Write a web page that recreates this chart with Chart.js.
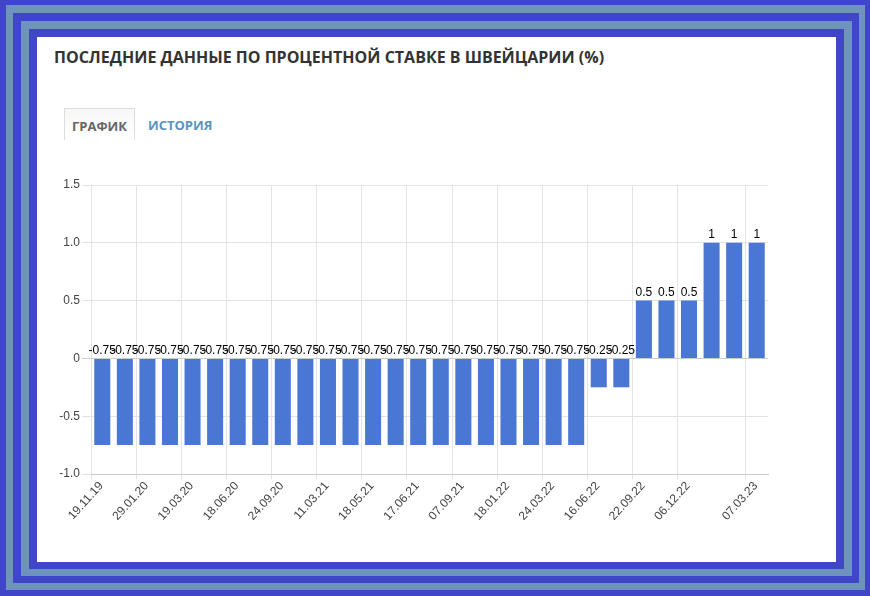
<!DOCTYPE html>
<html lang="ru">
<head>
<meta charset="utf-8">
<title>Процентная ставка в Швейцарии</title>
<script src="https://cdn.jsdelivr.net/npm/chart.js@4.4.0/dist/chart.umd.min.js"></script>
<style>
  html, body { margin: 0; padding: 0; }
  body { width: 870px; height: 596px; background: #4146c8; position: relative; overflow: hidden; }
  .band { position: absolute; }
  #b1 { left: 6px; top: 5px; right: 5px; bottom: 6px; background: #6e93bd; }
  #b2 { left: 13px; top: 13px; right: 11px; bottom: 13px; background: #4146c8; }
  #b3 { left: 21px; top: 21px; right: 18px; bottom: 20px; background: #6e93bd; }
  #b4 { left: 29px; top: 29px; right: 26px; bottom: 27px; background: #4146c8; }
  #card { left: 37px; top: 37px; right: 34px; bottom: 34px; background: #fff; }
  h1 {
    position: absolute; left: 54px; top: 46px; margin: 0;
    font: bold 16px "Open Sans", sans-serif; color: #333; white-space: nowrap;
  }
  .tab {
    position: absolute; top: 108px; height: 32px; box-sizing: border-box;
    font: bold 13px "Open Sans", sans-serif; line-height: 34px;
  }
  #tabChart {
    left: 64px; width: 71px; padding-left: 7px; color: #666;
    border: 1px solid #ddd; border-bottom: none;
    background: linear-gradient(#f7f7f7, #fff);
  }
  #tabHistory { left: 148px; color: #5b93c1; }
  #chart { position: absolute; left: 37px; top: 150px; }
</style>
</head>
<body>
<div class="band" id="b1"></div>
<div class="band" id="b2"></div>
<div class="band" id="b3"></div>
<div class="band" id="b4"></div>
<div class="band" id="card"></div>
<h1>ПОСЛЕДНИЕ ДАННЫЕ ПО ПРОЦЕНТНОЙ СТАВКЕ В ШВЕЙЦАРИИ (%)</h1>
<div class="tab" id="tabChart">ГРАФИК</div>
<div class="tab" id="tabHistory">ИСТОРИЯ</div>
<canvas id="chart" width="799" height="400"></canvas>

<script>
'use strict';

// ------------------------------- Data ------------------------------//
// one entry per bar; dates that are not shown on the axis are left blank
const dates = [
  '19.11.19', '', '29.01.20', '', '19.03.20', '', '18.06.20', '', '24.09.20', '',
  '11.03.21', '', '18.05.21', '', '17.06.21', '', '07.09.21', '', '18.01.22', '',
  '24.03.22', '', '16.06.22', '', '22.09.22', '', '06.12.22', '', '', '07.03.23'
];
const rates = [
  -0.75, -0.75, -0.75, -0.75, -0.75, -0.75, -0.75, -0.75, -0.75, -0.75,
  -0.75, -0.75, -0.75, -0.75, -0.75, -0.75, -0.75, -0.75, -0.75, -0.75,
  -0.75, -0.75, -0.25, -0.25, 0.5, 0.5, 0.5, 1, 1, 1
];
const yTicks = [-1.0, -0.5, 0, 0.5, 1.0, 1.5];

// ------------------------------- Styles ------------------------------//
const barColor = '#4a76d4';
const gridColor = '#e3e3e3';
const axisColor = '#cccccc';
const textColor = '#444444';
const fontFamily = 'Arial, "Liberation Sans", sans-serif';

// ------------------------------- Plugins ------------------------------//
const valueLabels = {
  id: 'valueLabels',
  afterDatasetsDraw(chart) {
    const ctx = chart.ctx;
    const meta = chart.getDatasetMeta(0);
    ctx.save();
    ctx.font = '12px ' + fontFamily;
    ctx.fillStyle = '#000';
    ctx.textAlign = 'center';
    ctx.textBaseline = 'alphabetic';
    meta.data.forEach(function (bar, i) {
      const top = Math.min(bar.y, bar.base);
      ctx.fillText(String(rates[i]), bar.x, top - 5);
    });
    ctx.restore();
  }
};

// ------------------------------- Chart ------------------------------//
function renderChart() {
  const ctx = document.getElementById('chart').getContext('2d');

  new Chart(ctx, {
    type: 'bar',
    data: {
      labels: dates,
      datasets: [{
        label: 'Ставка',
        data: rates,
        backgroundColor: barColor,
        borderWidth: 0,
        barPercentage: 0.71,
        categoryPercentage: 1.0
      }]
    },
    options: {
      responsive: false,
      animation: false,
      layout: {
        padding: { top: 35, right: 68 }
      },
      plugins: {
        legend: { display: false },
        tooltip: { enabled: false }
      },
      scales: {
        x: {
          afterFit(scale) { scale.height = 76; },
          border: { color: axisColor },
          grid: {
            offset: true,
            tickLength: 5,
            color(c) {
              const label = dates[c.index];
              return label ? gridColor : 'rgba(0,0,0,0)';
            }
          },
          ticks: {
            autoSkip: false,
            minRotation: 48,
            maxRotation: 48,
            labelOffset: -1,
            padding: 0,
            color: textColor,
            font: { family: fontFamily, size: 12 }
          }
        },
        y: {
          min: yTicks[0],
          max: yTicks[yTicks.length - 1],
          afterFit(scale) { scale.width = 54; },
          afterBuildTicks(scale) {
            scale.ticks = yTicks.map(function (v) { return { value: v }; });
          },
          border: { display: false },
          grid: {
            tickLength: 9,
            color(c) {
              return c.tick && c.tick.value === 0 ? axisColor : gridColor;
            }
          },
          ticks: {
            padding: 2,
            color: textColor,
            font: { family: fontFamily, size: 12 },
            callback(v) { return v === 0 ? '0' : v.toFixed(1); }
          }
        }
      }
    },
    plugins: [valueLabels]
  });
}

renderChart();
</script>
</body>
</html>
